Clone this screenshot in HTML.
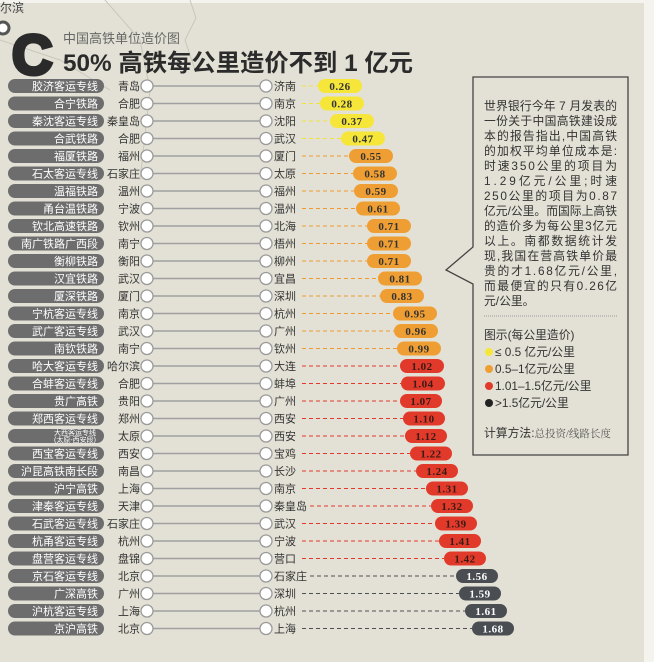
<!DOCTYPE html>
<html><head><meta charset="utf-8"><style>
html,body{margin:0;padding:0;background:#e3e1d5;}
svg{display:block;font-family:"Liberation Sans","Noto Sans CJK SC",sans-serif;}
.lp{fill:#6d6d6d}
.lt{fill:#fff;font-size:11px;text-anchor:end}
.lc{fill:#333;font-size:11px;text-anchor:end}
.rc{fill:#333;font-size:11px}
.c{fill:#fff;stroke:#9a9a9a;stroke-width:1.3}
.ln{stroke:#a0a0a0;stroke-width:1.5}
.v{font-family:"Liberation Serif","Noto Serif CJK SC",serif;font-weight:bold;font-size:11px;text-anchor:middle;letter-spacing:0.5px}
.bt{fill:#333;font-size:11.8px}
</style></head><body>
<svg width="654" height="662" viewBox="0 0 654 662" xmlns="http://www.w3.org/2000/svg">
<rect width="654" height="662" fill="#e3e1d5"/>
<rect x="644" y="0" width="10" height="662" fill="#f4f3ee"/>
<rect x="0" y="0" width="654" height="3" fill="#f4f3ee"/>
<g stroke="#c9c7bb" stroke-width="1" fill="none">
<path d="M105 0 L140 40 L150 90 L140 180"/>
<path d="M190 0 L196 18 L185 40 L195 70"/>
<path d="M0 40 L60 60 L110 90"/>
</g>
<text x="0" y="12" font-size="12" fill="#444">尔滨</text>
<circle cx="3" cy="28" r="6" fill="#fff" stroke="#555" stroke-width="3"/>
<text x="12" y="74" font-size="56" font-weight="bold" fill="#2a2a2a" stroke="#2a2a2a" stroke-width="4" font-family="Liberation Sans,sans-serif">C</text>
<text x="63" y="43" font-size="13" fill="#666">中国高铁单位造价图</text>
<text x="63" y="71" font-size="24" font-weight="bold" fill="#2b2b2b" textLength="350" lengthAdjust="spacingAndGlyphs">50% 高铁每公里造价不到 1 亿元</text>

<g id="rows">
<g transform="translate(0,86)"><rect class="lp" x="8" y="-7" width="96" height="14" rx="7"/><text class="lt" x="98" y="4">胶济客运专线</text><text class="lc" x="140" y="4">青岛</text><line class="ln" x1="153" y1="0" x2="260" y2="0"/><circle class="c" cx="147" cy="0" r="6"/><circle class="c" cx="266" cy="0" r="6"/><text class="rc" x="274" y="4">济南</text><line x1="302" y1="0" x2="318" y2="0" stroke="#f2e23a" stroke-dasharray="4,3"/><rect x="318" y="-7" width="44" height="14" rx="7" fill="#f6e63a"/><text class="v" x="340" y="4" fill="#333">0.26</text></g>
<g transform="translate(0,103.5)"><rect class="lp" x="8" y="-7" width="96" height="14" rx="7"/><text class="lt" x="98" y="4">合宁铁路</text><text class="lc" x="140" y="4">合肥</text><line class="ln" x1="153" y1="0" x2="260" y2="0"/><circle class="c" cx="147" cy="0" r="6"/><circle class="c" cx="266" cy="0" r="6"/><text class="rc" x="274" y="4">南京</text><line x1="302" y1="0" x2="320" y2="0" stroke="#f2e23a" stroke-dasharray="4,3"/><rect x="320" y="-7" width="44" height="14" rx="7" fill="#f6e63a"/><text class="v" x="342" y="4" fill="#333">0.28</text></g>
<g transform="translate(0,121)"><rect class="lp" x="8" y="-7" width="96" height="14" rx="7"/><text class="lt" x="98" y="4">秦沈客运专线</text><text class="lc" x="140" y="4">秦皇岛</text><line class="ln" x1="153" y1="0" x2="260" y2="0"/><circle class="c" cx="147" cy="0" r="6"/><circle class="c" cx="266" cy="0" r="6"/><text class="rc" x="274" y="4">沈阳</text><line x1="302" y1="0" x2="330" y2="0" stroke="#f2e23a" stroke-dasharray="4,3"/><rect x="330" y="-7" width="44" height="14" rx="7" fill="#f6e63a"/><text class="v" x="352" y="4" fill="#333">0.37</text></g>
<g transform="translate(0,138.5)"><rect class="lp" x="8" y="-7" width="96" height="14" rx="7"/><text class="lt" x="98" y="4">合武铁路</text><text class="lc" x="140" y="4">合肥</text><line class="ln" x1="153" y1="0" x2="260" y2="0"/><circle class="c" cx="147" cy="0" r="6"/><circle class="c" cx="266" cy="0" r="6"/><text class="rc" x="274" y="4">武汉</text><line x1="302" y1="0" x2="341" y2="0" stroke="#f2e23a" stroke-dasharray="4,3"/><rect x="341" y="-7" width="44" height="14" rx="7" fill="#f6e63a"/><text class="v" x="363" y="4" fill="#333">0.47</text></g>
<g transform="translate(0,156)"><rect class="lp" x="8" y="-7" width="96" height="14" rx="7"/><text class="lt" x="98" y="4">福厦铁路</text><text class="lc" x="140" y="4">福州</text><line class="ln" x1="153" y1="0" x2="260" y2="0"/><circle class="c" cx="147" cy="0" r="6"/><circle class="c" cx="266" cy="0" r="6"/><text class="rc" x="274" y="4">厦门</text><line x1="302" y1="0" x2="349" y2="0" stroke="#ee9a30" stroke-dasharray="4,3"/><rect x="349" y="-7" width="44" height="14" rx="7" fill="#ef9e33"/><text class="v" x="371" y="4" fill="#333">0.55</text></g>
<g transform="translate(0,173.5)"><rect class="lp" x="8" y="-7" width="96" height="14" rx="7"/><text class="lt" x="98" y="4">石太客运专线</text><text class="lc" x="140" y="4">石家庄</text><line class="ln" x1="153" y1="0" x2="260" y2="0"/><circle class="c" cx="147" cy="0" r="6"/><circle class="c" cx="266" cy="0" r="6"/><text class="rc" x="274" y="4">太原</text><line x1="302" y1="0" x2="353" y2="0" stroke="#ee9a30" stroke-dasharray="4,3"/><rect x="353" y="-7" width="44" height="14" rx="7" fill="#ef9e33"/><text class="v" x="375" y="4" fill="#333">0.58</text></g>
<g transform="translate(0,191)"><rect class="lp" x="8" y="-7" width="96" height="14" rx="7"/><text class="lt" x="98" y="4">温福铁路</text><text class="lc" x="140" y="4">温州</text><line class="ln" x1="153" y1="0" x2="260" y2="0"/><circle class="c" cx="147" cy="0" r="6"/><circle class="c" cx="266" cy="0" r="6"/><text class="rc" x="274" y="4">福州</text><line x1="302" y1="0" x2="354" y2="0" stroke="#ee9a30" stroke-dasharray="4,3"/><rect x="354" y="-7" width="44" height="14" rx="7" fill="#ef9e33"/><text class="v" x="376" y="4" fill="#333">0.59</text></g>
<g transform="translate(0,208.5)"><rect class="lp" x="8" y="-7" width="96" height="14" rx="7"/><text class="lt" x="98" y="4">甬台温铁路</text><text class="lc" x="140" y="4">宁波</text><line class="ln" x1="153" y1="0" x2="260" y2="0"/><circle class="c" cx="147" cy="0" r="6"/><circle class="c" cx="266" cy="0" r="6"/><text class="rc" x="274" y="4">温州</text><line x1="302" y1="0" x2="356" y2="0" stroke="#ee9a30" stroke-dasharray="4,3"/><rect x="356" y="-7" width="44" height="14" rx="7" fill="#ef9e33"/><text class="v" x="378" y="4" fill="#333">0.61</text></g>
<g transform="translate(0,226)"><rect class="lp" x="8" y="-7" width="96" height="14" rx="7"/><text class="lt" x="98" y="4">钦北高速铁路</text><text class="lc" x="140" y="4">钦州</text><line class="ln" x1="153" y1="0" x2="260" y2="0"/><circle class="c" cx="147" cy="0" r="6"/><circle class="c" cx="266" cy="0" r="6"/><text class="rc" x="274" y="4">北海</text><line x1="302" y1="0" x2="367" y2="0" stroke="#ee9a30" stroke-dasharray="4,3"/><rect x="367" y="-7" width="44" height="14" rx="7" fill="#ef9e33"/><text class="v" x="389" y="4" fill="#333">0.71</text></g>
<g transform="translate(0,243.5)"><rect class="lp" x="8" y="-7" width="96" height="14" rx="7"/><text class="lt" x="98" y="4">南广铁路广西段</text><text class="lc" x="140" y="4">南宁</text><line class="ln" x1="153" y1="0" x2="260" y2="0"/><circle class="c" cx="147" cy="0" r="6"/><circle class="c" cx="266" cy="0" r="6"/><text class="rc" x="274" y="4">梧州</text><line x1="302" y1="0" x2="367" y2="0" stroke="#ee9a30" stroke-dasharray="4,3"/><rect x="367" y="-7" width="44" height="14" rx="7" fill="#ef9e33"/><text class="v" x="389" y="4" fill="#333">0.71</text></g>
<g transform="translate(0,261)"><rect class="lp" x="8" y="-7" width="96" height="14" rx="7"/><text class="lt" x="98" y="4">衡柳铁路</text><text class="lc" x="140" y="4">衡阳</text><line class="ln" x1="153" y1="0" x2="260" y2="0"/><circle class="c" cx="147" cy="0" r="6"/><circle class="c" cx="266" cy="0" r="6"/><text class="rc" x="274" y="4">柳州</text><line x1="302" y1="0" x2="367" y2="0" stroke="#ee9a30" stroke-dasharray="4,3"/><rect x="367" y="-7" width="44" height="14" rx="7" fill="#ef9e33"/><text class="v" x="389" y="4" fill="#333">0.71</text></g>
<g transform="translate(0,278.5)"><rect class="lp" x="8" y="-7" width="96" height="14" rx="7"/><text class="lt" x="98" y="4">汉宜铁路</text><text class="lc" x="140" y="4">武汉</text><line class="ln" x1="153" y1="0" x2="260" y2="0"/><circle class="c" cx="147" cy="0" r="6"/><circle class="c" cx="266" cy="0" r="6"/><text class="rc" x="274" y="4">宜昌</text><line x1="302" y1="0" x2="378" y2="0" stroke="#ee9a30" stroke-dasharray="4,3"/><rect x="378" y="-7" width="44" height="14" rx="7" fill="#ef9e33"/><text class="v" x="400" y="4" fill="#333">0.81</text></g>
<g transform="translate(0,296)"><rect class="lp" x="8" y="-7" width="96" height="14" rx="7"/><text class="lt" x="98" y="4">厦深铁路</text><text class="lc" x="140" y="4">厦门</text><line class="ln" x1="153" y1="0" x2="260" y2="0"/><circle class="c" cx="147" cy="0" r="6"/><circle class="c" cx="266" cy="0" r="6"/><text class="rc" x="274" y="4">深圳</text><line x1="302" y1="0" x2="380" y2="0" stroke="#ee9a30" stroke-dasharray="4,3"/><rect x="380" y="-7" width="44" height="14" rx="7" fill="#ef9e33"/><text class="v" x="402" y="4" fill="#333">0.83</text></g>
<g transform="translate(0,313.5)"><rect class="lp" x="8" y="-7" width="96" height="14" rx="7"/><text class="lt" x="98" y="4">宁杭客运专线</text><text class="lc" x="140" y="4">南京</text><line class="ln" x1="153" y1="0" x2="260" y2="0"/><circle class="c" cx="147" cy="0" r="6"/><circle class="c" cx="266" cy="0" r="6"/><text class="rc" x="274" y="4">杭州</text><line x1="302" y1="0" x2="393" y2="0" stroke="#ee9a30" stroke-dasharray="4,3"/><rect x="393" y="-7" width="44" height="14" rx="7" fill="#ef9e33"/><text class="v" x="415" y="4" fill="#333">0.95</text></g>
<g transform="translate(0,331)"><rect class="lp" x="8" y="-7" width="96" height="14" rx="7"/><text class="lt" x="98" y="4">武广客运专线</text><text class="lc" x="140" y="4">武汉</text><line class="ln" x1="153" y1="0" x2="260" y2="0"/><circle class="c" cx="147" cy="0" r="6"/><circle class="c" cx="266" cy="0" r="6"/><text class="rc" x="274" y="4">广州</text><line x1="302" y1="0" x2="394" y2="0" stroke="#ee9a30" stroke-dasharray="4,3"/><rect x="394" y="-7" width="44" height="14" rx="7" fill="#ef9e33"/><text class="v" x="416" y="4" fill="#333">0.96</text></g>
<g transform="translate(0,348.5)"><rect class="lp" x="8" y="-7" width="96" height="14" rx="7"/><text class="lt" x="98" y="4">南钦铁路</text><text class="lc" x="140" y="4">南宁</text><line class="ln" x1="153" y1="0" x2="260" y2="0"/><circle class="c" cx="147" cy="0" r="6"/><circle class="c" cx="266" cy="0" r="6"/><text class="rc" x="274" y="4">钦州</text><line x1="302" y1="0" x2="397" y2="0" stroke="#ee9a30" stroke-dasharray="4,3"/><rect x="397" y="-7" width="44" height="14" rx="7" fill="#ef9e33"/><text class="v" x="419" y="4" fill="#333">0.99</text></g>
<g transform="translate(0,366)"><rect class="lp" x="8" y="-7" width="96" height="14" rx="7"/><text class="lt" x="98" y="4">哈大客运专线</text><text class="lc" x="140" y="4">哈尔滨</text><line class="ln" x1="153" y1="0" x2="260" y2="0"/><circle class="c" cx="147" cy="0" r="6"/><circle class="c" cx="266" cy="0" r="6"/><text class="rc" x="274" y="4">大连</text><line x1="302" y1="0" x2="400" y2="0" stroke="#e2392a" stroke-dasharray="4,3"/><rect x="400" y="-7" width="44" height="14" rx="7" fill="#e13a2b"/><text class="v" x="422" y="4" fill="#3a1a14">1.02</text></g>
<g transform="translate(0,383.5)"><rect class="lp" x="8" y="-7" width="96" height="14" rx="7"/><text class="lt" x="98" y="4">合蚌客运专线</text><text class="lc" x="140" y="4">合肥</text><line class="ln" x1="153" y1="0" x2="260" y2="0"/><circle class="c" cx="147" cy="0" r="6"/><circle class="c" cx="266" cy="0" r="6"/><text class="rc" x="274" y="4">蚌埠</text><line x1="302" y1="0" x2="401" y2="0" stroke="#e2392a" stroke-dasharray="4,3"/><rect x="401" y="-7" width="44" height="14" rx="7" fill="#e13a2b"/><text class="v" x="423" y="4" fill="#3a1a14">1.04</text></g>
<g transform="translate(0,401)"><rect class="lp" x="8" y="-7" width="96" height="14" rx="7"/><text class="lt" x="98" y="4">贵广高铁</text><text class="lc" x="140" y="4">贵阳</text><line class="ln" x1="153" y1="0" x2="260" y2="0"/><circle class="c" cx="147" cy="0" r="6"/><circle class="c" cx="266" cy="0" r="6"/><text class="rc" x="274" y="4">广州</text><line x1="302" y1="0" x2="400" y2="0" stroke="#e2392a" stroke-dasharray="4,3"/><rect x="400" y="-7" width="42" height="14" rx="7" fill="#e13a2b"/><text class="v" x="421" y="4" fill="#3a1a14">1.07</text></g>
<g transform="translate(0,418.5)"><rect class="lp" x="8" y="-7" width="96" height="14" rx="7"/><text class="lt" x="98" y="4">郑西客运专线</text><text class="lc" x="140" y="4">郑州</text><line class="ln" x1="153" y1="0" x2="260" y2="0"/><circle class="c" cx="147" cy="0" r="6"/><circle class="c" cx="266" cy="0" r="6"/><text class="rc" x="274" y="4">西安</text><line x1="302" y1="0" x2="403" y2="0" stroke="#e2392a" stroke-dasharray="4,3"/><rect x="403" y="-7" width="42" height="14" rx="7" fill="#e13a2b"/><text class="v" x="424" y="4" fill="#3a1a14">1.10</text></g>
<g transform="translate(0,436)"><rect class="lp" x="8" y="-7" width="96" height="14" rx="7"/><text x="96" y="-1" fill="#fff" font-size="7" text-anchor="end">大西客运专线</text><text x="96" y="6" fill="#fff" font-size="7" text-anchor="end">(太原-西安段)</text><text class="lc" x="140" y="4">太原</text><line class="ln" x1="153" y1="0" x2="260" y2="0"/><circle class="c" cx="147" cy="0" r="6"/><circle class="c" cx="266" cy="0" r="6"/><text class="rc" x="274" y="4">西安</text><line x1="302" y1="0" x2="405" y2="0" stroke="#e2392a" stroke-dasharray="4,3"/><rect x="405" y="-7" width="42" height="14" rx="7" fill="#e13a2b"/><text class="v" x="426" y="4" fill="#3a1a14">1.12</text></g>
<g transform="translate(0,453.5)"><rect class="lp" x="8" y="-7" width="96" height="14" rx="7"/><text class="lt" x="98" y="4">西宝客运专线</text><text class="lc" x="140" y="4">西安</text><line class="ln" x1="153" y1="0" x2="260" y2="0"/><circle class="c" cx="147" cy="0" r="6"/><circle class="c" cx="266" cy="0" r="6"/><text class="rc" x="274" y="4">宝鸡</text><line x1="302" y1="0" x2="410" y2="0" stroke="#e2392a" stroke-dasharray="4,3"/><rect x="410" y="-7" width="42" height="14" rx="7" fill="#e13a2b"/><text class="v" x="431" y="4" fill="#3a1a14">1.22</text></g>
<g transform="translate(0,471)"><rect class="lp" x="8" y="-7" width="96" height="14" rx="7"/><text class="lt" x="98" y="4">沪昆高铁南长段</text><text class="lc" x="140" y="4">南昌</text><line class="ln" x1="153" y1="0" x2="260" y2="0"/><circle class="c" cx="147" cy="0" r="6"/><circle class="c" cx="266" cy="0" r="6"/><text class="rc" x="274" y="4">长沙</text><line x1="302" y1="0" x2="416" y2="0" stroke="#e2392a" stroke-dasharray="4,3"/><rect x="416" y="-7" width="42" height="14" rx="7" fill="#e13a2b"/><text class="v" x="437" y="4" fill="#3a1a14">1.24</text></g>
<g transform="translate(0,488.5)"><rect class="lp" x="8" y="-7" width="96" height="14" rx="7"/><text class="lt" x="98" y="4">沪宁高铁</text><text class="lc" x="140" y="4">上海</text><line class="ln" x1="153" y1="0" x2="260" y2="0"/><circle class="c" cx="147" cy="0" r="6"/><circle class="c" cx="266" cy="0" r="6"/><text class="rc" x="274" y="4">南京</text><line x1="302" y1="0" x2="426" y2="0" stroke="#e2392a" stroke-dasharray="4,3"/><rect x="426" y="-7" width="42" height="14" rx="7" fill="#e13a2b"/><text class="v" x="447" y="4" fill="#3a1a14">1.31</text></g>
<g transform="translate(0,506)"><rect class="lp" x="8" y="-7" width="96" height="14" rx="7"/><text class="lt" x="98" y="4">津秦客运专线</text><text class="lc" x="140" y="4">天津</text><line class="ln" x1="153" y1="0" x2="260" y2="0"/><circle class="c" cx="147" cy="0" r="6"/><circle class="c" cx="266" cy="0" r="6"/><text class="rc" x="274" y="4">秦皇岛</text><line x1="310" y1="0" x2="431" y2="0" stroke="#e2392a" stroke-dasharray="4,3"/><rect x="431" y="-7" width="42" height="14" rx="7" fill="#e13a2b"/><text class="v" x="452" y="4" fill="#3a1a14">1.32</text></g>
<g transform="translate(0,523.5)"><rect class="lp" x="8" y="-7" width="96" height="14" rx="7"/><text class="lt" x="98" y="4">石武客运专线</text><text class="lc" x="140" y="4">石家庄</text><line class="ln" x1="153" y1="0" x2="260" y2="0"/><circle class="c" cx="147" cy="0" r="6"/><circle class="c" cx="266" cy="0" r="6"/><text class="rc" x="274" y="4">武汉</text><line x1="302" y1="0" x2="435" y2="0" stroke="#e2392a" stroke-dasharray="4,3"/><rect x="435" y="-7" width="42" height="14" rx="7" fill="#e13a2b"/><text class="v" x="456" y="4" fill="#3a1a14">1.39</text></g>
<g transform="translate(0,541)"><rect class="lp" x="8" y="-7" width="96" height="14" rx="7"/><text class="lt" x="98" y="4">杭甬客运专线</text><text class="lc" x="140" y="4">杭州</text><line class="ln" x1="153" y1="0" x2="260" y2="0"/><circle class="c" cx="147" cy="0" r="6"/><circle class="c" cx="266" cy="0" r="6"/><text class="rc" x="274" y="4">宁波</text><line x1="302" y1="0" x2="439" y2="0" stroke="#e2392a" stroke-dasharray="4,3"/><rect x="439" y="-7" width="42" height="14" rx="7" fill="#e13a2b"/><text class="v" x="460" y="4" fill="#3a1a14">1.41</text></g>
<g transform="translate(0,558.5)"><rect class="lp" x="8" y="-7" width="96" height="14" rx="7"/><text class="lt" x="98" y="4">盘营客运专线</text><text class="lc" x="140" y="4">盘锦</text><line class="ln" x1="153" y1="0" x2="260" y2="0"/><circle class="c" cx="147" cy="0" r="6"/><circle class="c" cx="266" cy="0" r="6"/><text class="rc" x="274" y="4">营口</text><line x1="302" y1="0" x2="444" y2="0" stroke="#e2392a" stroke-dasharray="4,3"/><rect x="444" y="-7" width="42" height="14" rx="7" fill="#e13a2b"/><text class="v" x="465" y="4" fill="#3a1a14">1.42</text></g>
<g transform="translate(0,576)"><rect class="lp" x="8" y="-7" width="96" height="14" rx="7"/><text class="lt" x="98" y="4">京石客运专线</text><text class="lc" x="140" y="4">北京</text><line class="ln" x1="153" y1="0" x2="260" y2="0"/><circle class="c" cx="147" cy="0" r="6"/><circle class="c" cx="266" cy="0" r="6"/><text class="rc" x="274" y="4">石家庄</text><line x1="310" y1="0" x2="456" y2="0" stroke="#4c4f54" stroke-dasharray="4,3"/><rect x="456" y="-7" width="42" height="14" rx="7" fill="#4a4d52"/><text class="v" x="477" y="4" fill="#fff">1.56</text></g>
<g transform="translate(0,593.5)"><rect class="lp" x="8" y="-7" width="96" height="14" rx="7"/><text class="lt" x="98" y="4">广深高铁</text><text class="lc" x="140" y="4">广州</text><line class="ln" x1="153" y1="0" x2="260" y2="0"/><circle class="c" cx="147" cy="0" r="6"/><circle class="c" cx="266" cy="0" r="6"/><text class="rc" x="274" y="4">深圳</text><line x1="302" y1="0" x2="459" y2="0" stroke="#4c4f54" stroke-dasharray="4,3"/><rect x="459" y="-7" width="42" height="14" rx="7" fill="#4a4d52"/><text class="v" x="480" y="4" fill="#fff">1.59</text></g>
<g transform="translate(0,611)"><rect class="lp" x="8" y="-7" width="96" height="14" rx="7"/><text class="lt" x="98" y="4">沪杭客运专线</text><text class="lc" x="140" y="4">上海</text><line class="ln" x1="153" y1="0" x2="260" y2="0"/><circle class="c" cx="147" cy="0" r="6"/><circle class="c" cx="266" cy="0" r="6"/><text class="rc" x="274" y="4">杭州</text><line x1="302" y1="0" x2="465" y2="0" stroke="#4c4f54" stroke-dasharray="4,3"/><rect x="465" y="-7" width="42" height="14" rx="7" fill="#4a4d52"/><text class="v" x="486" y="4" fill="#fff">1.61</text></g>
<g transform="translate(0,628.5)"><rect class="lp" x="8" y="-7" width="96" height="14" rx="7"/><text class="lt" x="98" y="4">京沪高铁</text><text class="lc" x="140" y="4">北京</text><line class="ln" x1="153" y1="0" x2="260" y2="0"/><circle class="c" cx="147" cy="0" r="6"/><circle class="c" cx="266" cy="0" r="6"/><text class="rc" x="274" y="4">上海</text><line x1="302" y1="0" x2="472" y2="0" stroke="#4c4f54" stroke-dasharray="4,3"/><rect x="472" y="-7" width="42" height="14" rx="7" fill="#4a4d52"/><text class="v" x="493" y="4" fill="#fff">1.68</text></g>
</g>

<path d="M473 77 L628 77 L628 455 L473 455 L473 284 L446 270 L473 247 Z" fill="#e3e1d5" stroke="#444" stroke-width="1.3"/>
<g class="bt">
<text x="484" y="110" textLength="133">世界银行今年 7 月发表的</text>
<text x="484" y="125" textLength="133">一份关于中国高铁建设成</text>
<text x="484" y="140" textLength="133">本的报告指出,中国高铁</text>
<text x="484" y="155" textLength="133">的加权平均单位成本是:</text>
<text x="484" y="170" textLength="133">时速350公里的项目为</text>
<text x="484" y="185" textLength="133">1.29亿元/公里;时速</text>
<text x="484" y="200" textLength="133">250公里的项目为0.87</text>
<text x="484" y="215" textLength="133">亿元/公里。而国际上高铁</text>
<text x="484" y="230" textLength="133">的造价多为每公里3亿元</text>
<text x="484" y="245" textLength="133">以上。南都数据统计发</text>
<text x="484" y="260" textLength="133">现,我国在营高铁单价最</text>
<text x="484" y="275" textLength="133">贵的才1.68亿元/公里,</text>
<text x="484" y="290" textLength="133">而最便宜的只有0.26亿</text>
<text x="484" y="305">元/公里。</text>
</g>
<line x1="484" y1="316" x2="617" y2="316" stroke="#999" stroke-dasharray="1,1"/>
<text class="bt" x="484" y="339">图示(每公里造价)</text>
<circle cx="489" cy="352" r="4" fill="#f6e63a"/><text class="bt" x="495" y="356">≤ 0.5 亿元/公里</text>
<circle cx="489" cy="369" r="4" fill="#ef9e33"/><text class="bt" x="495" y="373">0.5–1亿元/公里</text>
<circle cx="489" cy="386" r="4" fill="#e13a2b"/><text class="bt" x="495" y="390">1.01–1.5亿元/公里</text>
<circle cx="489" cy="403" r="4" fill="#222"/><text class="bt" x="495" y="407">&gt;1.5亿元/公里</text>
<text class="bt" x="484" y="437">计算方法:<tspan font-family="Liberation Serif,Noto Serif CJK SC,serif" font-size="10.5" fill="#555">总投资/线路长度</tspan></text>
</svg>
</body></html>
